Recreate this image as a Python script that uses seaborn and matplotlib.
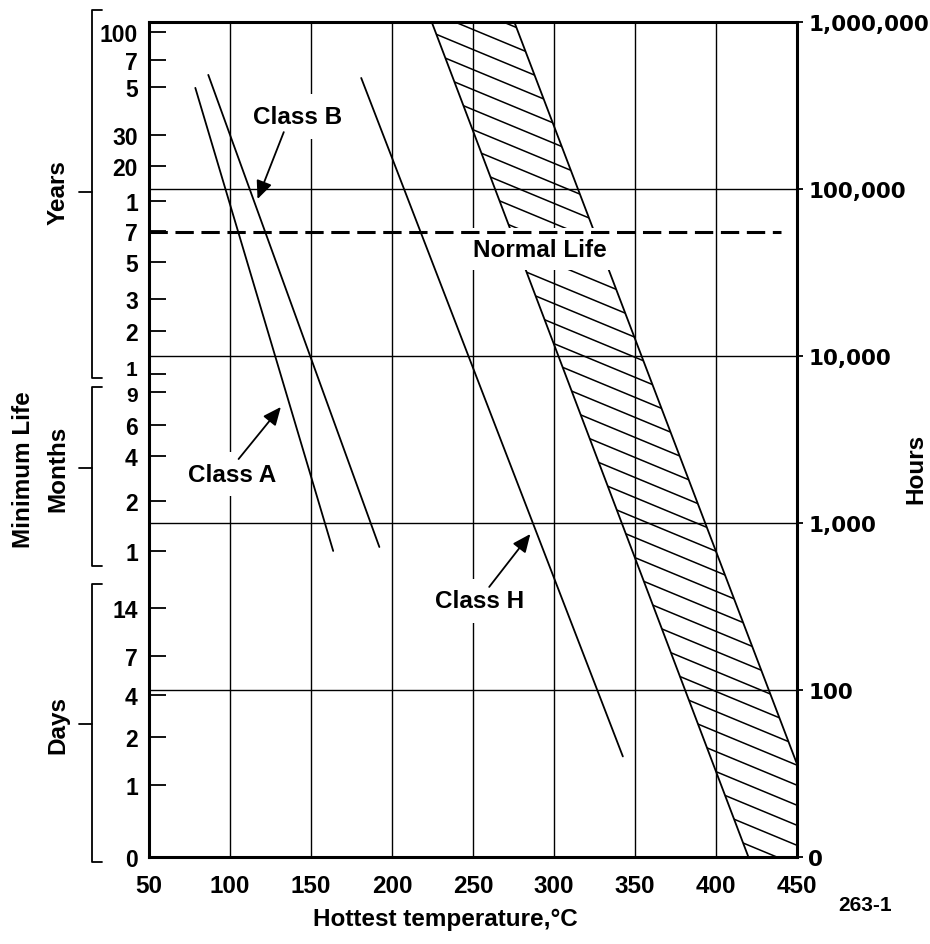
"""Recreate the insulation life vs hottest temperature chart."""

import matplotlib.pyplot as plt
import matplotlib.transforms as mtransforms
import numpy as np
import pandas as pd
import seaborn as sns
from matplotlib.patches import Polygon
from matplotlib.ticker import NullFormatter, NullLocator

plt.switch_backend("Agg")

# Straight lines, (temperature degC, hours) at both ends
LINE_NAMES = ["Class A", "Class B", "Class H", "band_left", "band_right"]
LINE_TEMPS = [[78.6, 163.7], [86.6, 192.2], [181.0, 342.5], [224.5, 420.0], [275.5, 450.0]]
LINE_HOURS = [[403000, 680], [482000, 718], [462000, 40], [1000000, 10], [1000000, 36]]

# Outline of the hatched band
BAND_TEMPS = [224.5, 275.5, 450.0, 450.0, 420.0]
BAND_HOURS = [1000000, 1000000, 36, 10, 10]

NORMAL_LIFE_HOURS = 55300
NORMAL_LIFE_TEMPS = [50, 440]
NORMAL_LIFE_LABEL = (291, 43700)

X_TICKS = [50, 100, 150, 200, 250, 300, 350, 400, 450]
RIGHT_TICKS = [10, 100, 1000, 10000, 100000, 1000000]
RIGHT_LABELS = ["0", "100", "1,000", "10,000", "100,000", "1,000,000"]
GRID_HOURS = [100, 1000, 10000, 100000]

LEFT_TICKS = [871000, 592000, 408000, 210000, 137000, 84700, 56100, 36600, 21900,
              14100, 7800, 6100, 3860, 2520, 1350, 680, 310, 160, 93, 52, 27, 10]
LEFT_LABELS = ["100", "7", "5", "30", "20", "1", "7", "5", "3", "2", "1",
               "9", "6", "4", "2", "1", "14", "7", "4", "2", "1", "0"]
# these two labels are crowded and get drawn separately, nudged apart (points)
CROWDED = {10: 3, 11: -3}

# Brackets on the left: top, bottom, centre (hours)
GROUP_NAMES = ["Years", "Months", "Days"]
GROUP_TOP = [1180000, 6500, 431]
GROUP_BOTTOM = [7400, 553, 9.3]
GROUP_MID = [96000, 2130, 62.5]

CLASS_LABELS = ["Class A", "Class B", "Class H"]
LABEL_TEMP = [101.6, 141.6, 254.3]
LABEL_HOURS = [1963, 273000, 341]
ARROW_TAIL_TEMP = [105.3, 133.2, 260.0]
ARROW_TAIL_HOURS = [2415, 219000, 414]
ARROW_HEAD_TEMP = [131.4, 117.0, 285.4]
ARROW_HEAD_HOURS = [4950, 87000, 859]


def main() -> None:
    sns.set_theme(style="white")
    plt.rcParams["font.family"] = ["Liberation Sans", "DejaVu Sans"]
    plt.rcParams["font.weight"] = "bold"
    plt.rcParams["font.size"] = 17.5
    for key in ["text.color", "axes.labelcolor", "xtick.color", "ytick.color"]:
        plt.rcParams[key] = "black"

    fig = plt.figure(figsize=(9.3, 9.45), dpi=100)
    ax = fig.add_axes([0.1602, 0.0921, 0.6968, 0.8836])
    ax.set_yscale("log")

    rows = []
    for name, temps, hours in zip(LINE_NAMES, LINE_TEMPS, LINE_HOURS):
        for t, h in zip(temps, hours):
            rows.append({"line": name, "temp": t, "hours": h})
    df = pd.DataFrame(rows)
    sns.lineplot(data=df, x="temp", y="hours", units="line", estimator=None,
                 sort=False, color="black", lw=1.3, legend=False, ax=ax, zorder=2)

    ax.set_xlim(50, 450)
    ax.set_ylim(10, 1e6)

    # hatched band: parallel strokes clipped to the band outline
    band = Polygon(np.column_stack([BAND_TEMPS, BAND_HOURS]), closed=True,
                   facecolor="none", edgecolor="none", transform=ax.transData)
    ax.add_patch(band)
    slope = -0.415 * (0.6968 * 930) / (0.8836 * 945)
    for c in np.arange(0.0, 1.6, 0.024):
        (ln,) = ax.plot([0, 1], [c, c + slope], transform=ax.transAxes,
                        color="black", lw=1.1, zorder=1.5)
        ln.set_clip_path(band)

    ax.plot(NORMAL_LIFE_TEMPS, [NORMAL_LIFE_HOURS] * 2, color="black", lw=2.2,
            dashes=(6, 2.5), zorder=4)
    ax.text(*NORMAL_LIFE_LABEL, "Normal Life", ha="center", va="center", zorder=3,
            bbox=dict(boxstyle="square,pad=0.4", fc="white", ec="none"))

    for lab, t, h in zip(CLASS_LABELS, LABEL_TEMP, LABEL_HOURS):
        ax.text(t, h, lab, ha="center", va="center", zorder=3,
                bbox=dict(boxstyle="square,pad=0.45", fc="white", ec="none"))
    for tt, th, ht, hh in zip(ARROW_TAIL_TEMP, ARROW_TAIL_HOURS, ARROW_HEAD_TEMP, ARROW_HEAD_HOURS):
        ax.annotate("", xy=(ht, hh), xytext=(tt, th), zorder=4,
                    arrowprops=dict(arrowstyle="-|>,head_length=0.5,head_width=0.22",
                                    color="black", lw=1.3, mutation_scale=22,
                                    shrinkA=0, shrinkB=0))

    # grid and ticks
    ax.set_xticks(X_TICKS)
    tick_labels = [("" if i in CROWDED else lab) for i, lab in enumerate(LEFT_LABELS)]
    ax.set_yticks(LEFT_TICKS, labels=tick_labels)
    ax.set_yticks(GRID_HOURS, minor=True)
    ax.yaxis.set_minor_formatter(NullFormatter())
    ax.set_axisbelow(True)
    ax.grid(True, axis="x", which="major", color="black", lw=1.0)
    ax.yaxis.grid(True, which="minor", color="black", lw=1.0)
    ax.yaxis.grid(False, which="major")
    ax.tick_params(axis="x", length=0, pad=12, labelsize=17.5)
    ax.tick_params(axis="y", which="major", left=True, direction="in", length=12,
                   width=1.3, color="black", pad=8, labelsize=16.5)
    ax.tick_params(axis="y", which="minor", left=False, length=0)
    for i, dy in CROWDED.items():
        offset = mtransforms.ScaledTranslation(-8 / 72, dy / 72, fig.dpi_scale_trans)
        ax.text(0, LEFT_TICKS[i], LEFT_LABELS[i], ha="right", va="center",
                fontsize=15, transform=ax.get_yaxis_transform() + offset)
    for s in ax.spines.values():
        s.set_color("black")
        s.set_linewidth(2.2)

    ax2 = ax.twinx()
    ax2.set_yscale("log")
    ax2.set_ylim(10, 1e6)
    ax2.set_yticks(RIGHT_TICKS, labels=RIGHT_LABELS)
    ax2.yaxis.set_minor_locator(NullLocator())
    ax2.tick_params(axis="y", right=True, direction="out", length=4, width=1.3,
                    color="black", pad=4)
    for lab in ax2.get_yticklabels():
        lab.set_family("DejaVu Sans")
        lab.set_fontsize(15.5)
    for s in ax2.spines.values():
        s.set_visible(False)

    # left brackets and group names
    trans = mtransforms.blended_transform_factory(ax.transAxes, ax.transData)
    for name, top, bot, mid in zip(GROUP_NAMES, GROUP_TOP, GROUP_BOTTOM, GROUP_MID):
        ax.plot([-0.0725, -0.088, -0.088, -0.0725], [top, top, bot, bot],
                transform=trans, clip_on=False, color="black", lw=1.3)
        ax.plot([-0.108, -0.088], [mid, mid], transform=trans, clip_on=False,
                color="black", lw=1.3)
        ax.text(-0.14, mid, name, rotation=90, ha="center", va="center", transform=trans)
    ax.text(-0.193, GROUP_MID[1], "Minimum Life", rotation=90, ha="center",
            va="center", transform=trans)
    ax.text(1.184, GROUP_MID[1], "Hours", rotation=90, ha="center", va="center",
            transform=trans)

    ax.set_xlabel("Hottest temperature,°C", fontsize=17.5, fontweight="bold")
    ax.set_ylabel("")
    ax.xaxis.set_label_coords(0.457, -0.060)
    fig.text(0.930, 0.0423, "263-1", ha="center", va="center", fontsize=15)

    fig.savefig("out.png", dpi=100)
    plt.close(fig)


if __name__ == "__main__":
    main()
